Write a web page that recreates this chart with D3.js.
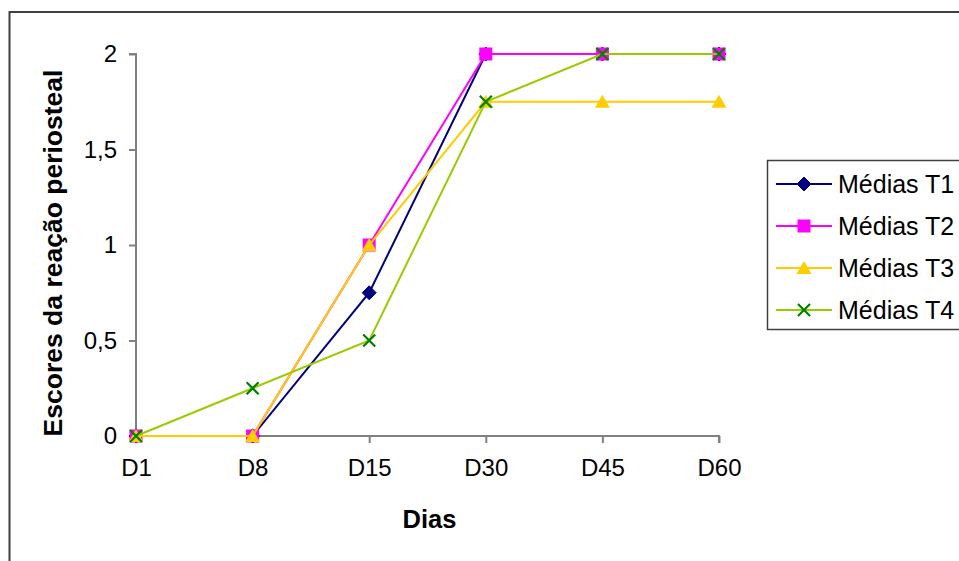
<!DOCTYPE html>
<html>
<head>
<meta charset="utf-8">
<script src="https://cdn.jsdelivr.net/npm/d3@7"></script>
<style>
  html, body { margin: 0; padding: 0; background: #fff; }
  svg { display: block; font-family: "Liberation Sans", Arial, sans-serif; }
</style>
</head>
<body>
<svg id="chart" width="959" height="561"></svg>
<script>
// Periosteal reaction mean scores per day, by treatment group
const days = ["D1", "D8", "D15", "D30", "D45", "D60"];
const yTicks = [0, 0.5, 1, 1.5, 2];
const seriesNames = ["Médias T1", "Médias T2", "Médias T3", "Médias T4"];
const mediasT1 = [0, 0, 0.75, 2, 2, 2];
const mediasT2 = [0, 0, 1, 2, 2, 2];
const mediasT3 = [0, 0, 1, 1.75, 1.75, 1.75];
const mediasT4 = [0, 0.25, 0.5, 1.75, 2, 2];

const series = [
  { name: seriesNames[0], values: mediasT1, line: "#000080", fill: "#000080", marker: "diamond" },
  { name: seriesNames[1], values: mediasT2, line: "#FF00FF", fill: "#FF00FF", marker: "square" },
  { name: seriesNames[2], values: mediasT3, line: "#FFCC00", fill: "#FFCC00", marker: "triangle" },
  { name: seriesNames[3], values: mediasT4, line: "#99CC00", fill: "#008000", marker: "cross" }
];

const svg = d3.select("#chart");
const plot = { left: 136, right: 719, top: 54, bottom: 436 };

const x = d3.scalePoint().domain(days).range([plot.left, plot.right]).padding(0);
const y = d3.scaleLinear().domain([0, 2]).range([plot.bottom, plot.top]);

// outer chart frame
svg.append("rect")
  .attr("x", 9.5).attr("y", 12).attr("width", 980).attr("height", 600)
  .attr("fill", "none").attr("stroke", "#404040").attr("stroke-width", 2);

const axisColor = "#808080";
const fmt = d => String(d).replace(".", ",");

// y axis
const yAxis = svg.append("g")
  .attr("transform", `translate(${plot.left},0)`)
  .call(d3.axisLeft(y).tickValues(yTicks).tickFormat(fmt).tickSize(7).tickPadding(12));
// x axis
const xAxis = svg.append("g")
  .attr("transform", `translate(0,${plot.bottom})`)
  .call(d3.axisBottom(x).tickSize(7).tickPadding(16));

[yAxis, xAxis].forEach(g => {
  g.select(".domain").attr("stroke", axisColor).attr("stroke-width", 2);
  g.selectAll(".tick line").attr("stroke", axisColor).attr("stroke-width", 2);
  g.selectAll(".tick text").attr("fill", "#000").style("font-size", "24px");
});
yAxis.select(".domain").attr("d", `M-7,${plot.top}H0V${plot.bottom}`);
xAxis.select(".domain").attr("d", `M${plot.left},0H${plot.right}V7`);

// axis titles
svg.append("text")
  .attr("x", (plot.left + plot.right) / 2 + 2).attr("y", 528)
  .attr("text-anchor", "middle")
  .style("font-size", "25.5px").style("font-weight", "bold")
  .text("Dias");
svg.append("text")
  .attr("transform", `translate(62,${(plot.top + plot.bottom) / 2 + 8}) rotate(-90)`)
  .attr("text-anchor", "middle")
  .style("font-size", "26.5px").style("font-weight", "bold")
  .text("Escores da reação periosteal");

// marker drawing
function drawMarker(g, type, fill) {
  if (type === "diamond") {
    g.append("path").attr("d", "M0,-7L7,0L0,7L-7,0Z").attr("fill", fill).attr("stroke", fill);
  } else if (type === "square") {
    g.append("rect").attr("x", -6.5).attr("y", -6.5).attr("width", 13).attr("height", 13).attr("fill", fill);
  } else if (type === "triangle") {
    g.append("path").attr("d", "M0,-7L7.5,6L-7.5,6Z").attr("fill", fill);
  } else if (type === "cross") {
    g.append("path").attr("d", "M-6,-6L6,6M-6,6L6,-6").attr("stroke", fill).attr("stroke-width", 2.2).attr("fill", "none");
  }
}

const line = d3.line().x((d, i) => x(days[i])).y(d => y(d));

series.forEach(s => {
  const g = svg.append("g");
  g.append("path")
    .datum(s.values)
    .attr("d", line)
    .attr("fill", "none")
    .attr("stroke", s.line)
    .attr("stroke-width", 2);
  s.values.forEach((v, i) => {
    const m = g.append("g").attr("transform", `translate(${x(days[i])},${y(v)})`);
    drawMarker(m, s.marker, s.fill);
  });
});

// legend
const legend = svg.append("g");
legend.append("rect")
  .attr("x", 767.5).attr("y", 160.5).attr("width", 220).attr("height", 169)
  .attr("fill", "#fff").attr("stroke", "#404040").attr("stroke-width", 1.5);
const rowY = d3.scalePoint().domain(seriesNames).range([184, 310]);
series.forEach(s => {
  const yy = rowY(s.name);
  legend.append("line")
    .attr("x1", 776).attr("x2", 832).attr("y1", yy).attr("y2", yy)
    .attr("stroke", s.line).attr("stroke-width", 2);
  drawMarker(legend.append("g").attr("transform", `translate(804,${yy})`), s.marker, s.fill);
  legend.append("text")
    .attr("x", 838).attr("y", yy + 8.5)
    .style("font-size", "25px")
    .text(s.name);
});
</script>
</body>
</html>
